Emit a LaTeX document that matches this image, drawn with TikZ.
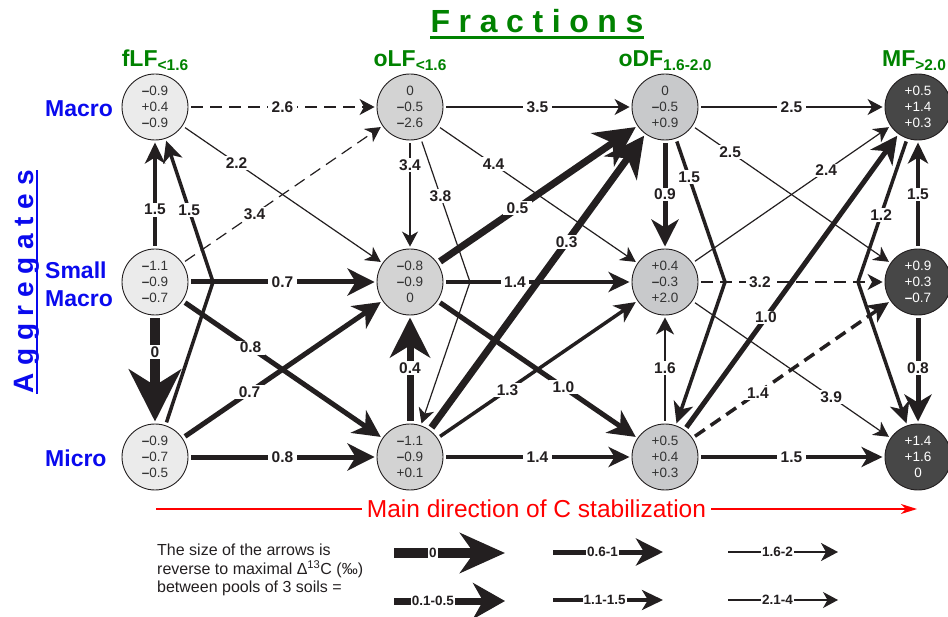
\documentclass[tikz,border=0pt]{standalone}
\usepackage{fontspec}
\setmainfont{Liberation Sans}
\usetikzlibrary{arrows.meta}
\definecolor{lc}{HTML}{231F20}
\definecolor{tc}{HTML}{333333}
\definecolor{gfr}{HTML}{008200}
\definecolor{bagg}{HTML}{0A0AEE}
\definecolor{fillA}{HTML}{EBEBEB}
\definecolor{fillB}{HTML}{D3D3D3}
\definecolor{fillC}{HTML}{C8C9CB}
\definecolor{fillD}{HTML}{474747}
\newcommand{\mns}{\textbf{–}}
\begin{document}
\begin{tikzpicture}[x=1pt,y=-1pt,
  pool/.style={circle, draw=lc, line width=0.9pt, minimum size=66pt, inner sep=0pt,
    align=center, font=\fontsize{13.5}{16}\selectfont, text=tc},
  poolA/.style={pool, fill=fillA},
  poolB/.style={pool, fill=fillB},
  poolC/.style={pool, fill=fillC},
  poolD/.style={pool, fill=fillD, text=white},
  edgebase/.style={draw=lc, shorten <=3pt, shorten >=2pt},
  e0/.style={edgebase, line width=10pt, -{Stealth[length=52pt,width=52pt,inset=16pt]}},
  e1/.style={edgebase, line width=7pt, -{Stealth[length=40pt,width=40pt,inset=12pt]}},
  e2/.style={edgebase, line width=5pt, -{Stealth[length=27pt,width=27pt,inset=8pt]}},
  e3/.style={edgebase, line width=3.5pt, -{Stealth[length=21pt,width=20pt,inset=6pt]}},
  e4/.style={edgebase, line width=2pt, -{Stealth[length=17pt,width=18pt,inset=5pt]}},
  e5/.style={edgebase, line width=1.2pt, -{Stealth[length=15pt,width=16pt,inset=4.5pt]}},
  dsh/.style={dash pattern=on 12pt off 7pt},
  elab/.style={fill=white, inner xsep=3.5pt, inner ysep=1.5pt, text=lc, font=\bfseries\fontsize{15.5}{15.5}\selectfont},
  leglab/.style={fill=white, inner sep=1pt, text=lc, font=\bfseries\fontsize{13.5}{13.5}\selectfont},
  hdr/.style={anchor=base, inner sep=0pt, text=gfr, font=\bfseries\fontsize{23}{23}\selectfont},
  rowlab/.style={inner sep=0pt, text=bagg, align=left, font=\bfseries\fontsize{23}{28}\selectfont},
  ttl/.style={inner sep=0pt, font=\bfseries\fontsize{32}{32}\selectfont}
]
\useasboundingbox (0,0) rectangle (948,617);

% titles
\node[ttl, anchor=base, text=gfr] (frac) at (537,33)
  {F\kern8.6pt r\kern8.6pt a\kern8.6pt c\kern8.6pt t\kern8.6pt i\kern8.6pt o\kern8.6pt n\kern8.6pt s};
\draw[gfr, line width=3pt] ([yshift=-4.5pt]frac.base west) -- ([yshift=-4.5pt]frac.base east);
\node[ttl, anchor=base, rotate=90, text=bagg, font=\bfseries\fontsize{28}{28}\selectfont] (agg) at (33,282)
  {A\kern7.7pt g\kern7.7pt g\kern7.7pt r\kern7.7pt e\kern7.7pt g\kern7.7pt a\kern7.7pt t\kern7.7pt e\kern7.7pt s};
\draw[bagg, line width=2.5pt] ([xshift=4pt]agg.base west) -- ([xshift=4pt]agg.base east);

% column headers
\node[hdr] (hf) at (155,67) {fLF{\fontsize{15.5}{15.5}\selectfont\raisebox{-3.5pt}{<1.6}}};
\node[hdr] (ho) at (410,67) {oLF{\fontsize{15.5}{15.5}\selectfont\raisebox{-3.5pt}{<1.6}}};
\node[hdr] (hd) at (665,67) {oDF{\fontsize{15.5}{15.5}\selectfont\raisebox{-3.5pt}{1.6-2.0}}};
\node[hdr] (hm) at (914,67) {MF{\fontsize{15.5}{15.5}\selectfont\raisebox{-3.5pt}{>2.0}}};

% row labels
\node[rowlab, anchor=base west] (rM) at (45,116.5) {Macro};
\node[rowlab, anchor=north west] (rS) at (45,262) {Small\\Macro};
\node[rowlab, anchor=base west] (rm) at (45,466.5) {Micro};

% pools
\node[poolA] (fM) at (155,107) {\mns0.9\\+0.4\\\mns0.9};
\node[poolA] (fS) at (155,282) {\mns1.1\\\mns0.9\\\mns0.7};
\node[poolA] (fm) at (155,457) {\mns0.9\\\mns0.7\\\mns0.5};
\node[poolB] (oM) at (410,107) {0\\\mns0.5\\\mns2.6};
\node[poolB] (oS) at (410,282) {\mns0.8\\\mns0.9\\0};
\node[poolB] (om) at (410,457) {\mns1.1\\\mns0.9\\+0.1};
\node[poolC] (dM) at (665,107) {0\\\mns0.5\\+0.9};
\node[poolC] (dS) at (665,282) {+0.4\\\mns0.3\\+2.0};
\node[poolC] (dm) at (665,457) {+0.5\\+0.4\\+0.3};
\node[poolD] (mM) at (918,107) {+0.5\\+1.4\\+0.3};
\node[poolD] (mS) at (918,282) {+0.9\\+0.3\\\mns0.7};
\node[poolD] (mm) at (918,457) {+1.4\\+1.6\\0};

% kink points
\coordinate (k1) at (213,282);
\coordinate (k2) at (470,282);
\coordinate (k3) at (725,282);
\coordinate (k4) at (858,282);

% edges
\draw[e5,dsh] (fM) -- node[elab]{2.6} (oM);
\draw[e5] (fM) -- node[elab,pos=0.27]{2.2} (oS);
\draw[e3] (fS) -- node[elab,pos=0.36]{1.5} (fM);
\draw[e3] (fm) -- (k1) -- node[elab]{1.5} (fM);
\draw[e0] (fS) -- node[elab,pos=0.34]{0} (fm);
\draw[e2] (fS) -- node[elab]{0.7} (oS);
\draw[e2] (fS) -- node[elab,pos=0.34]{0.8} (om);
\draw[e5,dsh] (fS) -- node[elab,pos=0.36]{3.4} (oM);
\draw[e2] (fm) -- node[elab,pos=0.335]{0.7} (oS);
\draw[e2] (fm) -- node[elab]{0.8} (om);
\draw[e5] (oM) -- node[elab]{3.5} (dM);
\draw[e5] (oM) -- node[elab,pos=0.23]{3.4} (oS);
\draw[e5] (oM) -- node[elab,pos=0.4]{3.8} (k2) -- (om);
\draw[e5] (oM) -- node[elab,pos=0.28]{4.4} (dS);
\draw[e1] (oS) -- node[elab,pos=0.4]{0.5} (dM);
\draw[e3] (oS) -- node[elab,pos=0.38]{1.4} (dS);
\draw[e2] (oS) -- node[elab,pos=0.63]{1.0} (dm);
\draw[e1] (om) -- node[elab,pos=0.51]{0.4} (oS);
\draw[e1] (om) -- node[elab,pos=0.635]{0.3} (dM);
\draw[e3] (om) -- node[elab,pos=0.35]{1.3} (dS);
\draw[e3] (om) -- node[elab]{1.4} (dm);
\draw[e5] (dM) -- node[elab]{2.5} (mM);
\draw[e2] (dM) -- node[elab]{0.9} (dS);
\draw[e3] (dM) -- node[elab,pos=0.27]{1.5} (k3) -- (dm);
\draw[e5] (dM) -- node[elab,pos=0.19]{2.5} (mS);
\draw[e5] (dS) -- node[elab,pos=0.675]{2.4} (mM);
\draw[e5,dsh] (dS) -- node[elab,pos=0.33]{3.2} (mS);
\draw[e5] (dS) -- node[elab,pos=0.7]{3.9} (mm);
\draw[e4] (dm) -- node[elab,pos=0.51]{1.6} (dS);
\draw[e2] (dm) -- node[elab,pos=0.38]{1.0} (mM);
\draw[e3,dsh] (dm) -- node[elab,pos=0.33]{1.4} (mS);
\draw[e3] (dm) -- node[elab]{1.5} (mm);
\draw[e3] (mS) -- node[elab]{1.5} (mM);
\draw[e3] (mM) -- node[elab,pos=0.53]{1.2} (k4) -- (mm);
\draw[e2] (mS) -- node[elab,pos=0.49]{0.8} (mm);

% main direction arrow
\coordinate (rs) at (156,509);
\coordinate (re) at (917,509);
\draw[red, line width=1.3pt, -{Stealth[length=16pt,width=10pt,inset=5pt]}] (rs) --
  node[fill=white, inner xsep=5pt, inner ysep=0pt, text=red, font=\fontsize{24.5}{24.5}\selectfont] (mdir) {Main direction of C stabilization} (re);

% legend
\node[anchor=north west, inner sep=0pt, align=left, text=lc,
  font=\fontsize{16}{18.5}\selectfont] (legtxt) at (157,544)
  {The size of the arrows is\\reverse to maximal Δ\smash{\textsuperscript{13}}C (‰)\\between pools of 3 soils =};
\coordinate (l0s) at (394,553); \coordinate (l0e) at (505,553);
\coordinate (l1s) at (394,601); \coordinate (l1e) at (505,601);
\coordinate (l2s) at (553,552); \coordinate (l2e) at (663,552);
\coordinate (l3s) at (553,600); \coordinate (l3e) at (663,600);
\coordinate (l4s) at (728,552); \coordinate (l4e) at (838,552);
\coordinate (l5s) at (728,600); \coordinate (l5e) at (838,600);
\draw[e0, shorten <=0pt, shorten >=0pt, -{Stealth[length=45pt,width=40pt,inset=14pt]}] (l0s) -- node[leglab,pos=0.35]{0} (l0e);
\draw[e1, shorten <=0pt, shorten >=0pt, -{Stealth[length=32pt,width=36pt,inset=10pt]}] (l1s) -- node[leglab,pos=0.35]{0.1-0.5} (l1e);
\draw[e2, shorten <=0pt, shorten >=0pt] (l2s) -- node[leglab,pos=0.45]{0.6-1} (l2e);
\draw[e3, shorten <=0pt, shorten >=0pt] (l3s) -- node[leglab,pos=0.47]{1.1-1.5} (l3e);
\draw[e4, shorten <=0pt, shorten >=0pt] (l4s) -- node[leglab,pos=0.45]{1.6-2} (l4e);
\draw[e5, shorten <=0pt, shorten >=0pt] (l5s) -- node[leglab,pos=0.45]{2.1-4} (l5e);
\end{tikzpicture}
\end{document}
